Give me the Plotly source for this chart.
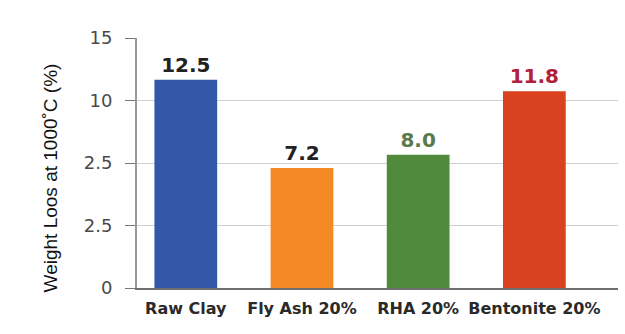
import plotly.graph_objects as go

# Weight loss after firing at 1000 °C for each mix
materials = ["Raw Clay", "Fly Ash 20%", "RHA 20%", "Bentonite 20%"]
weight_loss = [12.5, 7.2, 8.0, 11.8]
value_labels = ["12.5", "7.2", "8.0", "11.8"]
bar_colors = ["#3358a8", "#f38a23", "#508a3a", "#d8421f"]
label_colors = ["#222222", "#222222", "#5b7a4c", "#b3203c"]

# y-axis ticks as printed on the original axis
y_tick_vals = [0, 3.75, 7.5, 11.25, 15]
y_tick_text = ["0", "2.5", "2.5", "10", "15"]

fig = go.Figure(
    go.Bar(
        x=materials,
        y=weight_loss,
        marker=dict(color=bar_colors, line=dict(width=0)),
        width=0.54,
        text=value_labels,
        textposition="outside",
        textfont=dict(family="DejaVu Sans", size=20, color=label_colors, weight="bold"),
        cliponaxis=False,
    )
)

fig.update_layout(
    width=625,
    height=334,
    margin=dict(l=137, r=7, t=38, b=46),
    paper_bgcolor="white",
    plot_bgcolor="white",
    showlegend=False,
    xaxis=dict(
        range=[-0.42, 3.72],
        showline=True,
        linecolor="#6f6f6f",
        linewidth=2,
        ticks="",
        ticklabelstandoff=5,
        tickfont=dict(family="DejaVu Sans", size=16, color="#2a2a2a", weight="bold"),
        showgrid=False,
    ),
    yaxis=dict(
        range=[0, 15],
        tickvals=y_tick_vals,
        ticktext=y_tick_text,
        tickfont=dict(family="DejaVu Sans", size=18, color="#4a4a4a"),
        ticks="outside",
        ticklen=10,
        tickcolor="#777777",
        ticklabelstandoff=9,
        showline=True,
        linecolor="#999999",
        linewidth=2,
        showgrid=True,
        gridcolor="#cfcfcf",
        gridwidth=1,
        zeroline=False,
    ),
    annotations=[
        dict(
            text="Weight Loos at 1000˚C (%)",
            xref="paper",
            yref="paper",
            x=-0.18,
            xanchor="center",
            y=0.44,
            yanchor="middle",
            textangle=-90,
            showarrow=False,
            font=dict(family="Liberation Sans Narrow, Liberation Sans", size=19, color="#111111"),
        )
    ],
)

fig.write_html("out.html")
